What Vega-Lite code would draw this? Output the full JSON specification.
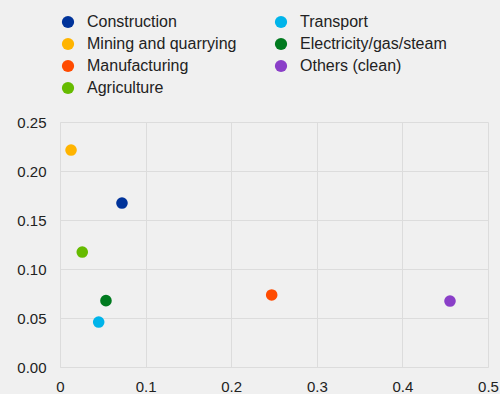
{
  "$schema": "https://vega.github.io/schema/vega-lite/v6.json",
  "autosize": "none",
  "width": 428,
  "height": 245,
  "padding": {"left": 60, "top": 122, "right": 12, "bottom": 27},
  "background": "#f0f0f0",
  "config": {
    "font": "Liberation Sans",
    "view": {"stroke": null},
    "axis": {
      "labelFont": "Liberation Sans",
      "labelFontSize": 15,
      "labelColor": "#222222",
      "gridColor": "#dcdcdc",
      "domainColor": "#dcdcdc",
      "ticks": false,
      "title": null
    },
    "legend": {
      "labelFont": "Liberation Sans",
      "labelFontSize": 16,
      "labelColor": "#222222"
    }
  },
  "data": {
    "values": [
      {"sector": "Construction", "x": 0.0724, "y": 0.1673},
      {"sector": "Mining and quarrying", "x": 0.0129, "y": 0.2214},
      {"sector": "Manufacturing", "x": 0.2473, "y": 0.0735},
      {"sector": "Agriculture", "x": 0.026, "y": 0.1173},
      {"sector": "Transport", "x": 0.0452, "y": 0.0459},
      {"sector": "Electricity/gas/steam", "x": 0.0537, "y": 0.0677},
      {"sector": "Others (clean)", "x": 0.4556, "y": 0.0673}
    ]
  },
  "mark": {"type": "circle", "size": 135, "opacity": 1},
  "encoding": {
    "x": {
      "field": "x",
      "type": "quantitative",
      "scale": {"domain": [0, 0.5], "nice": false},
      "axis": {"values": [0, 0.1, 0.2, 0.3, 0.4, 0.5], "labelPadding": 12, "labelFlush": false, "labelExpr": "datum.value == 0 ? '0' : format(datum.value, '.1f')"}
    },
    "y": {
      "field": "y",
      "type": "quantitative",
      "scale": {"domain": [0, 0.25], "nice": false},
      "axis": {"values": [0, 0.05, 0.1, 0.15, 0.2, 0.25], "format": ".2f", "labelPadding": 14}
    },
    "color": {
      "field": "sector",
      "type": "nominal",
      "scale": {
        "domain": ["Construction", "Mining and quarrying", "Manufacturing", "Agriculture", "Transport", "Electricity/gas/steam", "Others (clean)"],
        "range": ["#00339a", "#ffb400", "#ff4b00", "#66bb00", "#00b4ea", "#007a1f", "#8a3fc8"]
      },
      "legend": {
        "title": null,
        "orient": "none",
        "legendX": 0,
        "legendY": -108,
        "columns": 2,
        "columnPadding": 36,
        "rowPadding": 6,
        "symbolType": "circle",
        "symbolSize": 150,
        "labelOffset": 11,
        "padding": 0
      }
    }
  }
}
